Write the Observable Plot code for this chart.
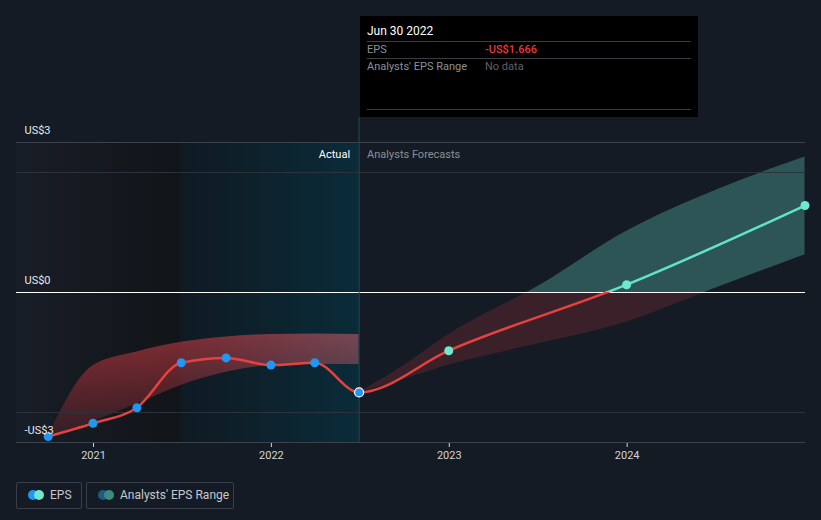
<!DOCTYPE html>
<html>
<head>
<meta charset="utf-8">
<script src="https://cdn.jsdelivr.net/npm/d3@7"></script>
<script src="https://cdn.jsdelivr.net/npm/@observablehq/plot@0.6"></script>
<style>
  html, body { margin: 0; padding: 0; background: #151b24; }
  #wrap { position: relative; width: 821px; height: 520px; overflow: hidden; font-family: Roboto, "Open Sans", sans-serif; }
  #chart svg { display: block; }
  .tip { position: absolute; left: 360px; top: 16px; width: 338px; height: 101px; background: #000; font-size: 11px; }
  .tip .date { position: absolute; left: 7px; top: 8px; color: #fff; font-size: 12px; }
  .tip .rule { position: absolute; left: 7px; width: 324px; height: 1px; background: #3a3c40; }
  .tip .lab { position: absolute; left: 7px; color: #8b9098; }
  .tip .val { position: absolute; left: 125px; }
  .legend { position: absolute; top: 482px; height: 27px; border: 1px solid #3a404b; border-radius: 2px; color: #c5c9d0; font-size: 12px; box-sizing: border-box; }
  .legend .c { position: absolute; top: 7px; width: 10px; height: 10px; border-radius: 50%; }
  .legend .t { position: absolute; top: 5px; }
</style>
</head>
<body>
<div id="wrap">
  <div id="chart"></div>
</div>
<script>
// ---- data ----
const actualDates = ["2020-09-30","2020-12-31","2021-03-31","2021-06-30","2021-09-30","2021-12-31","2022-03-31","2022-06-30"];
const actualEps   = [-2.40, -2.18, -1.92, -1.17, -1.09, -1.21, -1.17, -1.666];

const forecastDates = ["2022-12-31","2023-12-31","2024-12-31"];
const forecastEps   = [-0.97, 0.13, 1.45];

const pastRangeDates = ["2020-09-30","2020-12-31","2021-03-31","2021-06-30","2021-09-30","2021-12-31","2022-03-31","2022-06-30"];
const pastRangeLow   = [-2.40, -2.15, -1.86, -1.55, -1.33, -1.22, -1.20, -1.20];
const pastRangeHigh  = [-2.40, -1.22, -0.99, -0.83, -0.74, -0.70, -0.69, -0.70];

const fcRangeDates = ["2022-06-30","2022-09-30","2022-12-31","2023-06-30","2023-12-31","2024-06-30","2024-12-31"];
const fcRangeLow   = [-1.666, -1.45, -1.21, -0.86, -0.49, 0.07, 0.63];
const fcRangeHigh  = [-1.666, -1.22, -0.70, 0.09, 1.02, 1.70, 2.26];

const xDomainDates = ["2020-07-27","2025-01-01"];
const xTickDates = ["2021-01-01","2022-01-01","2023-01-01","2024-01-01"];
const yDomain = [-2.5, 2.5];
const yLabelValues = [2.5, 0, -2.5];
const yLabelTexts = ["US$3", "US$0", "-US$3"];
const gridValues = [2, -2];
const frameLines = [2.5, -2.5];
const periodDates = ["2021-06-30", "2022-06-30"];
const todayDate = "2022-06-30";
const periodLabels = ["Actual", "Analysts Forecasts"];

// ---- build ----
const parse = d3.utcParse("%Y-%m-%d");
const actual = actualDates.map((d, i) => ({date: parse(d), eps: actualEps[i]}));
const forecast = forecastDates.map((d, i) => ({date: parse(d), eps: forecastEps[i]}));
const lineData = actual.concat(forecast);
const pastRange = pastRangeDates.map((d, i) => ({date: parse(d), lo: pastRangeLow[i], hi: pastRangeHigh[i]}));
const fcRange = fcRangeDates.map((d, i) => ({date: parse(d), lo: fcRangeLow[i], hi: fcRangeHigh[i]}));
const today = parse(todayDate);
const xDom = xDomainDates.map(parse);
const regions = [
  {x1: xDom[0], x2: parse(periodDates[0]), fill: "url(#gLeft)"},
  {x1: parse(periodDates[0]), x2: parse(periodDates[1]), fill: "url(#gTeal)"}
];
const yLabels = yLabelValues.map((v, i) => ({v, t: yLabelTexts[i]}));

const plot = Plot.plot({
  width: 821,
  height: 520,
  marginLeft: 16,
  marginRight: 16,
  marginTop: 142,
  marginBottom: 78,
  style: {background: "transparent", color: "#d0d4da", fontFamily: "Roboto, 'Open Sans', sans-serif", fontSize: "11px", overflow: "visible"},
  x: {type: "utc", domain: xDom, ticks: xTickDates.map(parse), tickFormat: d3.utcFormat("%Y"), tickSize: 5, tickPadding: 4, label: null},
  y: {domain: yDomain, axis: null},
  marks: [
    Plot.rect(regions, {x1: "x1", x2: "x2", fill: d => d.fill}),
    Plot.areaY(pastRange, {x: "date", y1: "lo", y2: "hi", curve: "monotone-x", fill: "url(#gPast)"}),
    Plot.areaY(fcRange, {x: "date", y1: "lo", y2: "hi", curve: "monotone-x", fill: "url(#gFc)"}),
    Plot.ruleY(gridValues, {stroke: "#2c323b", strokeWidth: 1}),
    Plot.ruleY(frameLines, {stroke: "#3d434c", strokeWidth: 1}),
    Plot.ruleY([0], {stroke: "#ffffff", strokeWidth: 1}),
    Plot.ruleX([today], {stroke: "#1f4c5c", strokeWidth: 1, insetTop: -25}),
    Plot.text([periodLabels[0]], {x: today, frameAnchor: "top", lineAnchor: "middle", dy: 12, dx: -9, textAnchor: "end", fill: "#ffffff", fontSize: 11}),
    Plot.text([periodLabels[1]], {x: today, frameAnchor: "top", lineAnchor: "middle", dy: 12, dx: 8, textAnchor: "start", fill: "#8a8f97", fontSize: 11}),
    Plot.line(lineData, {x: "date", y: "eps", curve: "monotone-x", stroke: "url(#gLine)", strokeWidth: 2.5}),
    Plot.dot(actual.slice(0, -1), {x: "date", y: "eps", r: 4.5, fill: "#2196f3", stroke: "none"}),
    Plot.dot(actual.slice(-1), {x: "date", y: "eps", r: 4.5, fill: "#2196f3", stroke: "#ffffff", strokeWidth: 1.2}),
    Plot.dot(forecast, {x: "date", y: "eps", r: 4.5, fill: "#6ee8d0", stroke: "none"}),
    Plot.text(yLabels, {y: "v", text: "t", frameAnchor: "left", dx: 8, dy: -12, textAnchor: "start", fill: "#e6e8ec", fontSize: 11})
  ]
});

// gradient definitions using the scales
const ys = plot.scale("y");
const xs = plot.scale("x");
const y0 = ys.apply(0);
const svg = d3.select(plot);
const defs = svg.insert("defs", ":first-child");

function lin(id, attrs, stops) {
  const g = defs.append("linearGradient").attr("id", id).attr("gradientUnits", "userSpaceOnUse");
  for (const k in attrs) g.attr(k, attrs[k]);
  stops.forEach(s => g.append("stop").attr("offset", s[0]).attr("stop-color", s[1]).attr("stop-opacity", s[2] == null ? 1 : s[2]));
}
const xl = xs.apply(xDom[0]), xp0 = xs.apply(parse(periodDates[0])), xp1 = xs.apply(parse(periodDates[1]));
lin("gLeft", {x1: xl, x2: xp0, y1: 0, y2: 0}, [[0, "#181e27"], [1, "#111418"]]);
lin("gTeal", {x1: xp0, x2: xp1, y1: 0, y2: 0}, [[0, "#0f1a22"], [1, "#0a2b39"]]);
lin("gLine", {x1: 0, x2: 0, y1: 0, y2: 520}, [[y0 / 520, "#5fe3ca"], [y0 / 520, "#e5413f"]]);
lin("gFc", {x1: 0, x2: 0, y1: 0, y2: 520}, [[y0 / 520, "#2d5555"], [y0 / 520, "#3a2129"]]);
lin("gPast", {x1: xs.apply(parse(pastRangeDates[0])), x2: xp1, y1: 0, y2: 0}, [[0, "#b8323a", 0.72], [0.55, "#b03a42", 0.68], [1, "#ad5661", 0.66]]);
lin("gFade", {x1: 0, x2: 0, y1: ys.apply(-0.7), y2: ys.apply(-2.4)}, [[0, "#ffffff"], [1, "#404040"]]);
const mask = defs.append("mask").attr("id", "fadeMask").attr("maskUnits", "userSpaceOnUse")
  .attr("x", 0).attr("y", 0).attr("width", 821).attr("height", 520);
mask.append("rect").attr("x", 0).attr("y", 0).attr("width", 821).attr("height", 520).attr("fill", "url(#gFade)");
svg.selectAll('[fill="url(#gPast)"]').attr("mask", "url(#fadeMask)");

document.getElementById("chart").appendChild(plot);

// tooltip & legend (HTML overlays)
const wrap = document.getElementById("wrap");
const tip = document.createElement("div");
tip.className = "tip";
tip.innerHTML = `
  <div class="date">Jun 30 2022</div>
  <div class="rule" style="top:25px"></div>
  <div class="lab" style="top:27px">EPS</div>
  <div class="val" style="top:27px;color:#e8393d;font-weight:500">-US$1.666</div>
  <div class="rule" style="top:42px"></div>
  <div class="lab" style="top:44px">Analysts' EPS Range</div>
  <div class="val" style="top:44px;color:#5c6068">No data</div>
  <div class="rule" style="top:93px"></div>`;
wrap.appendChild(tip);

const leg1 = document.createElement("div");
leg1.className = "legend";
leg1.style.cssText = "left:16px;width:66px;";
leg1.innerHTML = `<div class="c" style="left:11px;background:#2196f3"></div><div class="c" style="left:17px;background:#6ee8d0"></div><div class="t" style="left:33px">EPS</div>`;
wrap.appendChild(leg1);
const leg2 = document.createElement("div");
leg2.className = "legend";
leg2.style.cssText = "left:86px;width:148px;";
leg2.innerHTML = `<div class="c" style="left:11px;background:#1f5a84"></div><div class="c" style="left:17px;background:#3e8a80"></div><div class="t" style="left:33px">Analysts' EPS Range</div>`;
wrap.appendChild(leg2);
</script>
</body>
</html>
